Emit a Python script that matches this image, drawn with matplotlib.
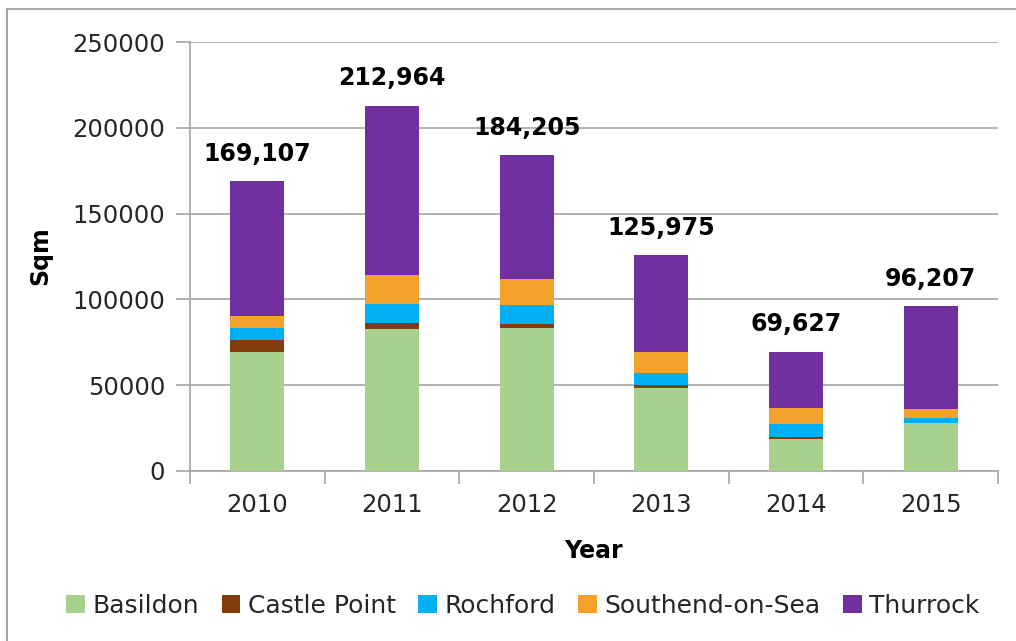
# -*- coding: utf-8 -*-
"""
stacked floorspace bars by district, 2010-2015
"""
from matplotlib import pyplot as plt
from matplotlib.patches import Rectangle
import numpy as np

years = ['2010', '2011', '2012', '2013', '2014', '2015']
totals = [169107, 212964, 184205, 125975, 69627, 96207]

basildon = [69500, 82600, 83300, 48400, 18500, 27800]
castle_point = [7000, 3850, 2330, 1570, 1500, 0]
rochford = [6600, 10900, 11070, 7340, 7580, 2900]
southend = [7400, 16700, 15330, 12060, 9320, 5600]
# thurrock is what is left of each total
thurrock = [t - (a + b + c + d) for t, a, b, c, d in
            zip(totals, basildon, castle_point, rochford, southend)]

series = ['Basildon', 'Castle Point', 'Rochford', 'Southend-on-Sea', 'Thurrock']
colours = ['#A9D18E', '#843C0C', '#00B0F0', '#F5A22D', '#7030A0']

W, H = 1016, 641
fig = plt.figure(figsize=(W / 100, H / 100), dpi=100)
ax = fig.add_axes([190 / W, 1 - 471 / H, (998 - 190) / W, (471 - 42) / H])

x = np.arange(len(years))
bottom = np.zeros(len(years))
for name, vals, c in zip(series, [basildon, castle_point, rochford, southend, thurrock], colours):
    ax.bar(x, vals, width=0.4, bottom=bottom, color=c, label=name,
           edgecolor='none', zorder=3)
    bottom += np.array(vals)

for xi, t in zip(x, totals):
    ax.annotate('{:,}'.format(t), (xi, t), xytext=(0, 11), textcoords='offset points',
                ha='center', va='bottom', fontsize=17, fontweight='bold', color='black')

ax.set_xlim(-0.5, 5.5)
ax.set_ylim(0, 250000)
ax.set_yticks(np.arange(0, 250001, 50000))
ax.set_yticklabels([str(v) for v in range(0, 250001, 50000)])
ax.set_xticks(x)
ax.set_xticklabels(years)
ax.set_xticks(np.arange(-0.5, 6, 1), minor=True)

grey = '#A6A6A6'
ax.grid(axis='y', color=grey, linewidth=1.2, zorder=0)
ax.set_axisbelow(True)
for s in ['top', 'right']:
    ax.spines[s].set_visible(False)
for s in ['left', 'bottom']:
    ax.spines[s].set_color(grey)
    ax.spines[s].set_linewidth(1.2)

ax.tick_params(axis='y', direction='out', length=10, width=1.2, color=grey,
               labelsize=17.5, labelcolor='#262626', pad=8)
ax.tick_params(axis='x', which='major', length=0, labelsize=17.5,
               labelcolor='#262626', pad=16)
ax.tick_params(axis='x', which='minor', direction='out', length=9, width=1.2, color=grey)

fig.text(40 / W, 1 - 256 / H, 'Sqm', rotation=90, ha='center', va='center',
         fontsize=17, fontweight='bold')
fig.text(594 / W, 1 - 551 / H, 'Year', ha='center', va='center',
         fontsize=17, fontweight='bold')

leg = fig.legend(loc='center', bbox_to_anchor=(523 / W, 1 - 606 / H), ncol=5,
                 frameon=False, fontsize=18, handlelength=0.75, handleheight=0.75,
                 handletextpad=0.3, columnspacing=0.9, labelcolor='#262626')

# outer chart border, cut off at the right and bottom edges
fig.patches.append(Rectangle((7 / W, -0.05), 1.1, 1 - 9 / H + 0.05,
                             transform=fig.transFigure, fill=False,
                             edgecolor=grey, linewidth=1.5))

fig.savefig('out.png', dpi=100)
